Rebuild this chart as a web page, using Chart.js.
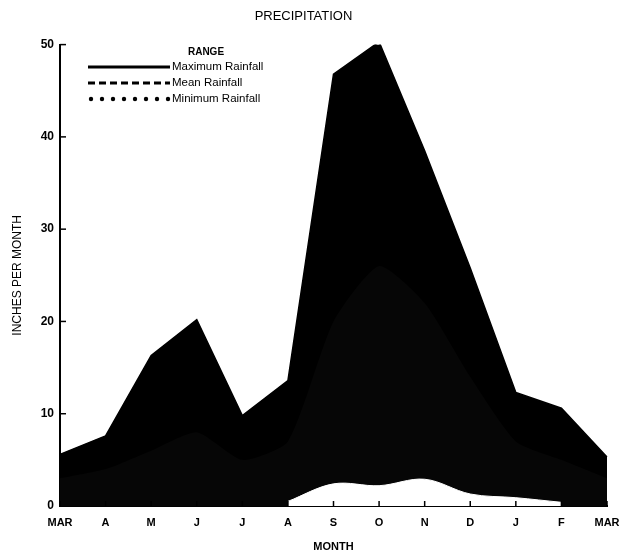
<!DOCTYPE html>
<html>
<head>
<meta charset="utf-8">
<script src="https://cdn.jsdelivr.net/npm/chart.js@4/dist/chart.umd.min.js"></script>
<style>
  html, body { margin: 0; padding: 0; background: #fff; }
  #wrap { width: 619px; height: 557px; }
</style>
</head>
<body>
<div id="wrap"><canvas id="precip"></canvas></div>
<script>
// months, March through March
const months = ['MAR', 'A', 'M', 'J', 'J', 'A', 'S', 'O', 'N', 'D', 'J', 'F', 'MAR'];

// inches per month
const maxRain  = [5.6, 7.6, 16.3, 20.2, 9.8, 13.6, 46.8, 50.3, 38.5, 25.8, 12.3, 10.6, 5.3];
const meanRain = [3.0, 4.0, 6.0, 8.0, 5.0, 7.0, 20.0, 26.0, 22.0, 14.0, 7.0, 5.0, 3.0];
const minRain  = [null, null, null, null, null, 0.5, 2.4, 2.2, 2.9, 1.3, 0.9, 0.4, null];

const yTicks = [0, 10, 20, 30, 40, 50];

const legendItems = [
  { text: 'Maximum Rainfall', style: 'solid' },
  { text: 'Mean Rainfall', style: 'dashed' },
  { text: 'Minimum Rainfall', style: 'dotted' }
];

const FONT = "'Liberation Sans', Arial, sans-serif";

// short tick marks drawn inward, and the legend box
const extras = {
  id: 'extras',
  afterDatasetsDraw(chart) {
    const ctx = chart.ctx;
    const x = chart.scales.x, y = chart.scales.y;
    ctx.save();
    ctx.strokeStyle = '#000';
    ctx.lineWidth = 1.5;
    months.forEach((m, i) => {
      const px = x.getPixelForValue(i);
      ctx.beginPath();
      ctx.moveTo(px, y.bottom);
      ctx.lineTo(px, y.bottom - 5);
      ctx.stroke();
    });
    yTicks.forEach(v => {
      if (v === 0) return;
      const py = y.getPixelForValue(v);
      ctx.beginPath();
      ctx.moveTo(x.left, py);
      ctx.lineTo(x.left + 6, py);
      ctx.stroke();
    });

    // legend
    ctx.fillStyle = '#000';
    ctx.font = 'bold 10px ' + FONT;
    ctx.textAlign = 'center';
    ctx.textBaseline = 'middle';
    ctx.fillText('RANGE', 206, 52);
    ctx.font = '11.5px ' + FONT;
    ctx.textAlign = 'left';
    legendItems.forEach((item, i) => {
      const ly = 67 + i * 16;
      ctx.lineWidth = 3;
      if (item.style === 'dotted') {
        for (let k = 0; k < 8; k++) {
          ctx.beginPath();
          ctx.arc(91 + k * 11, ly, 2.2, 0, Math.PI * 2);
          ctx.fill();
        }
      } else {
        ctx.setLineDash(item.style === 'dashed' ? [7, 4] : []);
        ctx.beginPath();
        ctx.moveTo(88, ly);
        ctx.lineTo(170, ly);
        ctx.stroke();
        ctx.setLineDash([]);
      }
      ctx.fillText(item.text, 172, ly);
    });
    ctx.restore();
  }
};

new Chart(document.getElementById('precip'), {
  type: 'line',
  data: {
    labels: months,
    datasets: [
      {
        label: 'Maximum Rainfall',
        data: maxRain,
        order: 3,
        fill: 'origin',
        backgroundColor: '#000',
        borderColor: '#000',
        borderWidth: 1.5,
        pointRadius: 0,
        tension: 0
      },
      {
        label: 'Mean Rainfall',
        data: meanRain,
        order: 2,
        fill: 'origin',
        backgroundColor: '#060606',
        borderColor: 'rgba(0,0,0,0)',
        borderWidth: 0,
        pointRadius: 0,
        tension: 0.2
      },
      {
        label: 'Minimum Rainfall',
        data: minRain,
        order: 1,
        fill: 'origin',
        backgroundColor: '#fff',
        borderColor: '#fff',
        borderWidth: 1,
        pointRadius: 0,
        tension: 0.35,
        spanGaps: false
      }
    ]
  },
  options: {
    responsive: true,
    maintainAspectRatio: false,
    animation: false,
    layout: { padding: { top: 0, right: 12, bottom: 0, left: 0 } },
    plugins: {
      legend: { display: false },
      tooltip: { enabled: false },
      title: {
        display: true,
        text: 'PRECIPITATION',
        color: '#000',
        font: { family: FONT, size: 13, weight: 'normal' },
        padding: { top: 9, bottom: 20 }
      }
    },
    scales: {
      x: {
        offset: false,
        grid: { display: false, drawTicks: false },
        border: { color: '#000', width: 2 },
        ticks: {
          color: '#000',
          padding: 10,
          maxRotation: 0,
          autoSkip: false,
          font: { family: FONT, size: 11, weight: 'bold' }
        },
        title: {
          display: true,
          text: 'MONTH',
          color: '#000',
          font: { family: FONT, size: 11, weight: 'bold' },
          padding: { top: 8, bottom: 3 }
        },
        afterFit(scale) {
          scale.height = 51;
          scale.paddingLeft = 0;
          scale.paddingRight = 0;
        }
      },
      y: {
        min: 0,
        max: 50,
        grid: { display: false, drawTicks: false },
        border: { color: '#000', width: 2 },
        ticks: {
          stepSize: 10,
          color: '#000',
          padding: 6,
          font: { family: FONT, size: 12, weight: 'bold' }
        },
        title: {
          display: true,
          text: 'INCHES PER MONTH',
          color: '#000',
          font: { family: FONT, size: 12 },
          padding: { top: 10, bottom: 0 }
        },
        afterFit(scale) { scale.width = 60; }
      }
    }
  },
  plugins: [extras]
});
</script>
</body>
</html>
